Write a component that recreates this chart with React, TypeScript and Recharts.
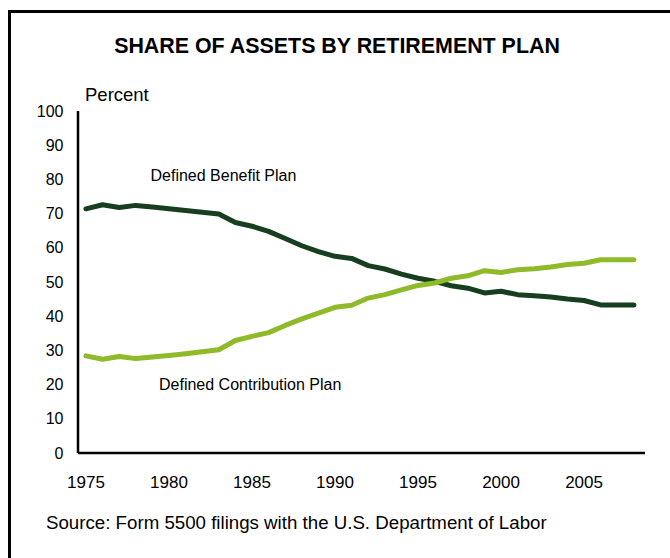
import React from "react";
import { LineChart, Line, XAxis, YAxis } from "recharts";

const years = [1975, 1976, 1977, 1978, 1979, 1980, 1981, 1982, 1983, 1984, 1985, 1986, 1987, 1988, 1989, 1990, 1991, 1992, 1993, 1994, 1995, 1996, 1997, 1998, 1999, 2000, 2001, 2002, 2003, 2004, 2005, 2006, 2007, 2008];
const definedBenefit = [71.4, 72.6, 71.8, 72.4, 71.9, 71.4, 70.9, 70.4, 69.9, 67.4, 66.3, 64.8, 62.7, 60.6, 58.9, 57.5, 56.9, 54.8, 53.8, 52.3, 51.1, 50.2, 48.9, 48.2, 46.8, 47.3, 46.3, 46.0, 45.6, 45.0, 44.6, 43.3, 43.3, 43.3];
const definedContribution = [28.4, 27.4, 28.2, 27.6, 28.1, 28.5, 29.0, 29.6, 30.2, 32.9, 34.1, 35.2, 37.3, 39.2, 40.9, 42.6, 43.2, 45.3, 46.3, 47.7, 49.0, 49.7, 51.1, 51.8, 53.3, 52.8, 53.6, 53.9, 54.4, 55.1, 55.5, 56.5, 56.5, 56.5];
const xTicks = [1975, 1980, 1985, 1990, 1995, 2000, 2005];
const yTicks = [0, 10, 20, 30, 40, 50, 60, 70, 80, 90, 100];

const title = "SHARE OF ASSETS BY RETIREMENT PLAN";
const yLabel = "Percent";
const dbLabel = "Defined Benefit Plan";
const dcLabel = "Defined Contribution Plan";
const source = "Source: Form 5500 filings with the U.S. Department of Labor";

const data = years.map((y, i) => ({ year: y, db: definedBenefit[i], dc: definedContribution[i] }));

const FONT = "'Liberation Sans', Arial, Helvetica, sans-serif";
const DARK = "#173f1f";
const LIGHT = "#8fba2a";

const textStyle = (left: number, top: number, size: number, extra: React.CSSProperties = {}): React.CSSProperties => ({
  position: "absolute",
  left,
  top,
  fontSize: size,
  fontFamily: FONT,
  color: "#000",
  lineHeight: 1,
  whiteSpace: "nowrap",
  ...extra,
});

export default function App() {
  return (
    <div style={{ position: "relative", width: 670, height: 558, overflow: "hidden", background: "#fff" }}>
      <style>{`body{margin:0;overflow:hidden;}`}</style>
      <div style={{ position: "absolute", left: 8, top: 10, width: 720, height: 700, border: "3px solid #000", boxSizing: "border-box" }} />
      <LineChart
        width={670}
        height={558}
        data={data}
        margin={{ top: 111, right: 25, bottom: 75, left: 0 }}
        style={{ position: "absolute", left: 0, top: 0 }}
      >
        <XAxis
          dataKey="year"
          type="number"
          domain={[1974.52, 2008.67]}
          ticks={xTicks}
          tickLine={false}
          tickSize={0}
          tickMargin={22.5}
          height={30}
          axisLine={{ stroke: "#000", strokeWidth: 2.5 }}
          tick={{ fill: "#000", fontSize: 17, fontFamily: FONT }}
          interval={0}
          allowDataOverflow
        />
        <YAxis
          type="number"
          domain={[0, 100]}
          ticks={yTicks}
          width={78}
          tickLine={false}
          tickSize={0}
          tickMargin={14.5}
          axisLine={{ stroke: "#000", strokeWidth: 2.5 }}
          tick={{ fill: "#000", fontSize: 16, fontFamily: FONT }}
          interval={0}
        />
        <Line type="linear" dataKey="db" stroke={DARK} strokeWidth={5} dot={false} activeDot={false} isAnimationActive={false} strokeLinecap="round" strokeLinejoin="round" />
        <Line type="linear" dataKey="dc" stroke={LIGHT} strokeWidth={5} dot={false} activeDot={false} isAnimationActive={false} strokeLinecap="round" strokeLinejoin="round" />
      </LineChart>
      <div style={textStyle(0, 36.2, 21.4, { width: 674, textAlign: "center", fontWeight: "bold" })}>{title}</div>
      <div style={textStyle(85, 86, 18.5)}>{yLabel}</div>
      <div style={textStyle(150.5, 168, 16)}>{dbLabel}</div>
      <div style={textStyle(159, 377, 16)}>{dcLabel}</div>
      <div style={textStyle(46, 513.6, 18.7)}>{source}</div>
    </div>
  );
}
